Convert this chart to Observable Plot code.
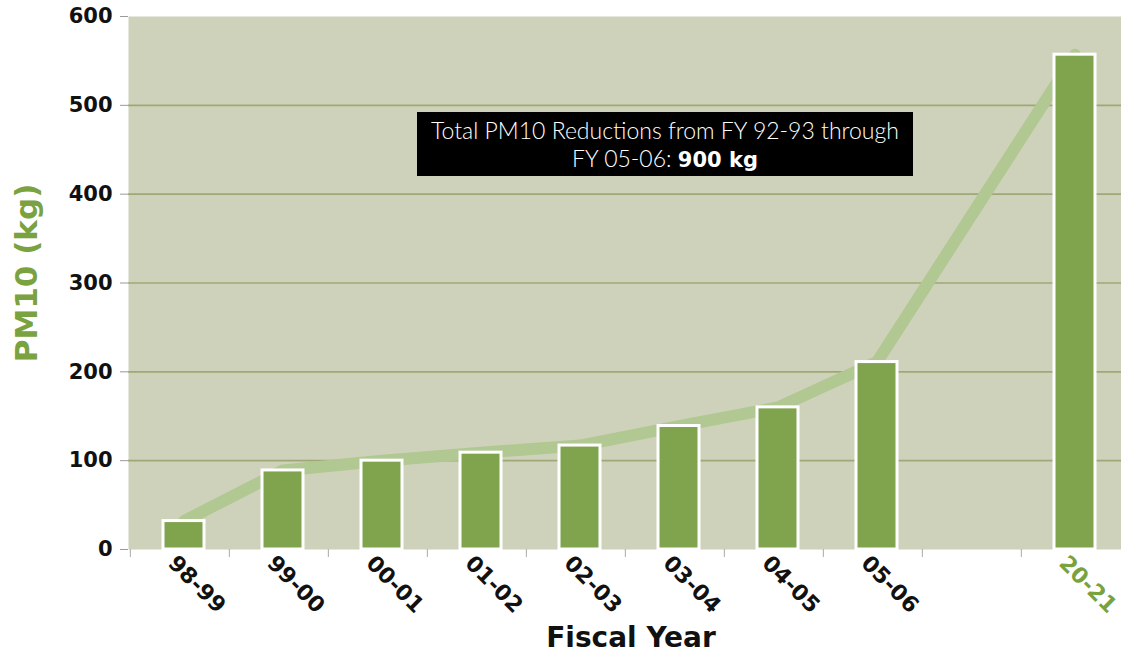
<!DOCTYPE html>
<html><head><meta charset="utf-8">
<script src="https://cdn.jsdelivr.net/npm/d3@7"></script>
<script src="https://cdn.jsdelivr.net/npm/@observablehq/plot@0.6"></script>
<style>
body{margin:0;background:#fff;font-family:Lato,sans-serif}
#wrap{position:relative;width:1121px;height:653px;overflow:hidden}
#wrap svg{display:block;position:absolute;left:0;top:0}
#note{position:absolute;z-index:2;left:417px;top:112px;width:496px;height:64px;background:#000;color:#fff;font:300 23px Lato,sans-serif;text-align:center;line-height:28px;padding-top:4px;box-sizing:border-box}
#note b{font-weight:700;font-family:"DejaVu Sans",sans-serif;font-size:21px}
</style></head><body>
<div id="wrap"><div id="note">Total PM10 Reductions from FY 92-93 through<br>FY 05-06: <b>900 kg</b></div></div>
<script>
const years = ["98-99","99-00","00-01","01-02","02-03","03-04","04-05","05-06","20-21"];
const pm10 = [32, 89, 100, 109, 117, 139, 160, 211, 557];
const xDomain = ["98-99","99-00","00-01","01-02","02-03","03-04","04-05","05-06","","20-21"];
const yTicks = [0, 100, 200, 300, 400, 500, 600];
const gridTicks = [100, 200, 300, 400, 500];
const highlight = "20-21";

const data = years.map((y, i) => ({year: y, value: pm10[i]}));

const W = 1121, H = 653, ML = 128, MR = 0, MT = 16, MB = 104;
const step = (W - ML - MR) / xDomain.length;
const green = "#80a44e";
const bold = "DejaVu Sans, sans-serif";

const chart = Plot.plot({
  width: W, height: H,
  marginLeft: ML, marginRight: MR, marginTop: MT, marginBottom: MB,
  style: {fontFamily: bold, background: "transparent", overflow: "visible"},
  x: {type: "band", domain: xDomain, padding: 0, label: null},
  y: {domain: [0, 600], label: null},
  marks: [
    Plot.frame({fill: "#ced2bb", stroke: null}),
    Plot.gridY(gridTicks, {stroke: "#9ea775", strokeOpacity: 1, strokeWidth: 1.6}),
    Plot.axisX({tickSize: 8, tickFormat: () => "", label: null, dx: -step / 2, stroke: "#aaa", strokeWidth: 1}),
    Plot.axisY({ticks: yTicks, tickSize: 8, tickPadding: 8, label: null, stroke: "#999", fill: "#111", fontSize: 21, fontWeight: 700}),
    Plot.lineY(data, {x: "year", y: "value", dx: 4, stroke: "#b1c892", strokeWidth: 12, strokeLinejoin: "round"}),
    Plot.barY(data, {x: "year", y: "value", dx: 4, insetLeft: 29, insetRight: 29, fill: green, stroke: "#fff", strokeWidth: 3}),
    Plot.axisX({tickSize: 0, tickRotate: 45, tickPadding: 6, label: null, dx: -8, dy: 4, fontSize: 22, fontWeight: 700,
      tickFormat: d => d, fill: d => d === highlight ? "#78a23e" : "#111"}),
    Plot.text(["Fiscal Year"], {frameAnchor: "bottom", dx: 6, dy: 97, lineAnchor: "bottom", textAnchor: "middle", fontSize: 28, fontWeight: 700, fill: "#111", text: d => d}),
    Plot.text(["PM10 (kg)"], {frameAnchor: "left", dx: -101, dy: -10, rotate: -90, textAnchor: "middle", fontSize: 31, fontWeight: 700, fill: "#7aa23f", text: d => d})
  ]
});
document.getElementById("wrap").insertBefore(chart, document.getElementById("note"));
</script>
</body></html>
